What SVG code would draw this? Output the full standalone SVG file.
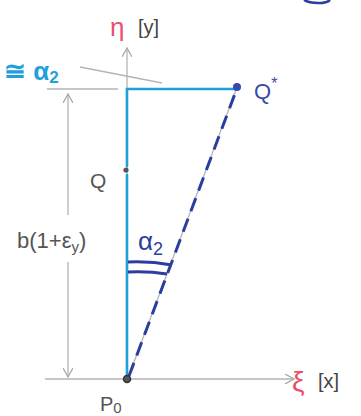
<svg xmlns="http://www.w3.org/2000/svg" width="361" height="416" viewBox="0 0 361 416">
<defs>
<style>
.g{stroke:#b4b4b4;stroke-width:1.3;fill:none}
.c{stroke:#1ea0d8;stroke-width:2.6;fill:none;stroke-linecap:round}
.d{stroke:#2b3e9e;stroke-width:3;fill:none}
.t{font-family:"Liberation Sans",Arial,sans-serif}
</style>
<marker id="ah" viewBox="0 0 10 10" refX="9" refY="5" markerWidth="10" markerHeight="10" markerUnits="userSpaceOnUse" orient="auto-start-reverse">
<path d="M0,0 L9,5 L0,10" fill="none" stroke="#a8a8a8" stroke-width="1.3"/>
</marker>
</defs>
<rect width="361" height="416" fill="#fff"/>
<g id="connectors">
<line class="g" x1="45" y1="379" x2="294" y2="379" marker-end="url(#ah)"/>
<line class="g" x1="127" y1="379" x2="127" y2="48" marker-end="url(#ah)"/>
<line class="g" x1="47" y1="89" x2="118" y2="89"/>
<line class="g" x1="68" y1="215" x2="68" y2="94" marker-end="url(#ah)"/>
<line class="g" x1="68" y1="262" x2="68" y2="377" marker-end="url(#ah)"/>
<line class="g" x1="80" y1="67" x2="162" y2="83"/>
<line class="g" x1="128" y1="378" x2="236" y2="90" stroke-width="0.8"/>
<line class="c" x1="127" y1="89" x2="236" y2="89"/>
<line class="c" x1="127" y1="89" x2="127" y2="166"/>
<line class="c" x1="127" y1="175" x2="127" y2="377"/>
<line class="d" x1="129" y1="376" x2="236" y2="91" stroke-dasharray="14 8"/>
<path class="d" d="M128,262 Q150,261 172,265" stroke-width="2.4"/>
<path class="d" d="M128,272 Q148,271 167,274" stroke-width="2.4"/>
<path d="M304,0 Q309,3 318,3 Q327,3 330,0" fill="none" stroke="#2b3e9e" stroke-width="2.5"/>
</g>
<g id="P0">
<circle cx="127" cy="379" r="3.5" fill="#555" stroke="#333" stroke-width="1.5"/>
<text class="t" x="100" y="411" font-size="20" fill="#555">P<tspan font-size="15" dy="2">0</tspan></text>
</g>
<g id="Q">
<circle cx="126" cy="170" r="2.6" fill="#555"/>
<text class="t" x="90" y="188" font-size="21" fill="#555">Q</text>
</g>
<g id="Qstar">
<circle cx="237" cy="87" r="4" fill="#3a4aa8"/>
<text class="t" x="254" y="99" font-size="22" fill="#3a4aa8">Q<tspan font-size="16" dy="-10">*</tspan></text>
</g>
<g id="eta-axis">
<text class="t" x="110" y="36" font-size="26" fill="#e8506e">η</text>
<text class="t" x="138" y="34" font-size="20" fill="#444">[y]</text>
</g>
<g id="xi-axis">
<text class="t" x="292" y="391" font-size="28" fill="#e8506e">ξ</text>
<text class="t" x="318" y="388" font-size="20" fill="#444">[x]</text>
</g>
<g id="approx-alpha">
<text class="t" x="4" y="80" font-size="26" font-weight="bold" fill="#1ea0d8">≅ α<tspan font-size="17" dy="3">2</tspan></text>
</g>
<g id="alpha2">
<text class="t" x="138" y="250" font-size="26" fill="#2b3e9e">α<tspan font-size="18" dy="5">2</tspan></text>
</g>
<g id="b-label">
<text class="t" x="17" y="248" font-size="22" fill="#555">b(1+ε<tspan font-size="15" dy="4">y</tspan><tspan dy="-4">)</tspan></text>
</g>
</svg>
